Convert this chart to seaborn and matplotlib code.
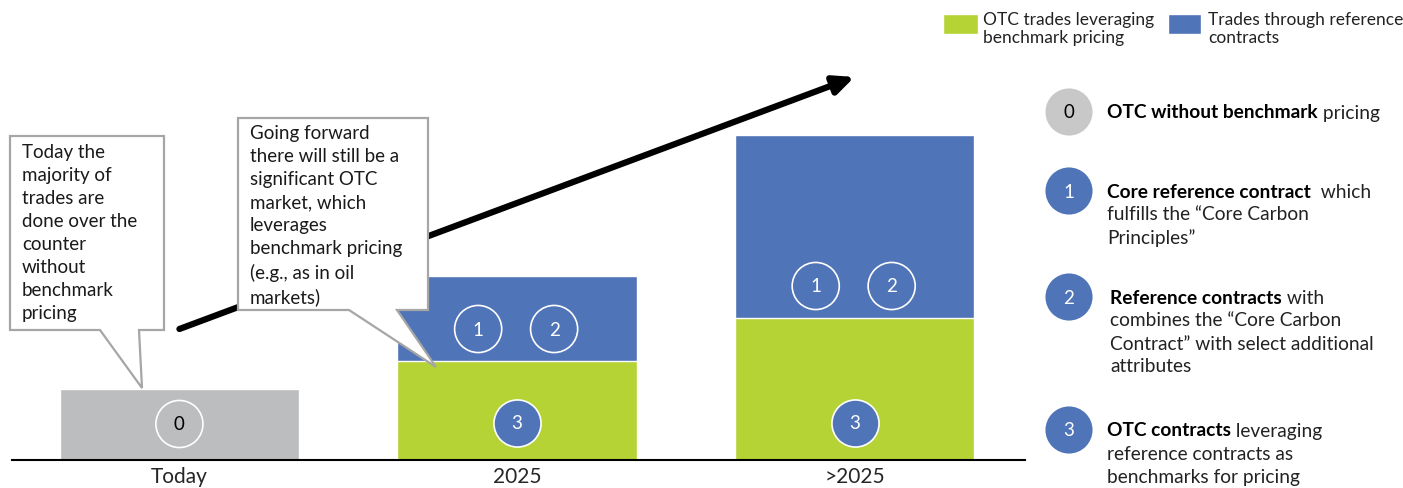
import matplotlib
matplotlib.use("Agg")
import matplotlib.pyplot as plt
import matplotlib.patches as mpatches
import seaborn as sns
import pandas as pd

# data
categories = ["Today", "2025", ">2025"]
otc_no_benchmark = [0.71, 0.0, 0.0]
otc_benchmark = [0.0, 0.99, 1.42]
reference_trades = [0.0, 0.85, 1.83]

GREEN = "#b5d334"
BLUE = "#4f74b8"
GRAY = "#bcbdbf"
FONT = "Lato"

sns.set_style("white")
plt.rcParams["font.family"] = [FONT, "DejaVu Sans"]

fig = plt.figure(figsize=(14.03, 4.89), dpi=100)
ax = fig.add_axes([12 / 1403, 28 / 489, (1025 - 12) / 1403, 461 / 489])

totals = [a + b + c for a, b, c in zip(otc_no_benchmark, otc_benchmark, reference_trades)]
df = pd.DataFrame({"cat": categories, "total": totals, "green": otc_benchmark})

sns.barplot(data=df, x="cat", y="total", hue="cat", palette=[GRAY, BLUE, BLUE],
            width=0.71, legend=False, ax=ax, saturation=1)
sns.barplot(data=df, x="cat", y="green", color=GREEN, width=0.71, ax=ax,
            saturation=1, edgecolor="white", linewidth=1)

ax.set_xlim(-0.496, 2.505)
ax.set_ylim(0, 4.61)
ax.set_xlabel("")
ax.set_ylabel("")
ax.set_yticks([])
for s in ["top", "right", "left"]:
    ax.spines[s].set_visible(False)
ax.spines["bottom"].set_color("black")
ax.spines["bottom"].set_linewidth(1.5)
ax.tick_params(axis="x", length=0, labelsize=15, pad=4)

# numbered markers inside the bars
def bubble(x, y, label, filled):
    ax.scatter([x], [y], s=1150, facecolor=BLUE if filled else "none",
               edgecolor="white", linewidth=1.2, zorder=5)
    ax.text(x, y, label, ha="center", va="center", fontsize=13.5,
            color="black" if label == "0" else "white", zorder=6)

bubble(0, 0.36, "0", False)
for i in (1, 2):
    mid = otc_benchmark[i] + 0.32
    bubble(i - 0.115, mid, "1", False)
    bubble(i + 0.11, mid, "2", False)
    bubble(i, 0.37, "3", True)

# growth arrow
ax.annotate("", xy=(2.0, 3.83), xytext=(0.0, 1.31),
            arrowprops=dict(arrowstyle="-|>,head_length=1.2,head_width=0.55",
                            color="black", lw=4.5, shrinkA=0, shrinkB=0))

# overlay in pixel coordinates for callouts and legends
ov = fig.add_axes([0, 0, 1, 1], zorder=10)
ov.set_xlim(0, 1403)
ov.set_ylim(489, 0)
ov.axis("off")
ov.patch.set_alpha(0)

box1 = [(10, 137), (164, 137), (164, 331), (139, 331), (142, 389), (100, 331), (10, 331)]
box2 = [(238, 119), (428, 119), (428, 311), (397, 311), (436, 368), (349, 311), (238, 311)]
for pts in (box1, box2):
    ov.add_patch(mpatches.Polygon(pts, closed=True, facecolor="white",
                                  edgecolor="#a6a6a6", linewidth=1.6, joinstyle="miter"))

ov.text(22, 144, "Today the\nmajority of\ntrades are\ndone over the\ncounter\nwithout\nbenchmark\npricing",
        ha="left", va="top", fontsize=13.5, linespacing=1.43, color="#1a1a1a")
ov.text(250, 125, "Going forward\nthere will still be a\nsignificant OTC\nmarket, which\nleverages\nbenchmark pricing\n(e.g., as in oil\nmarkets)",
        ha="left", va="top", fontsize=13.5, linespacing=1.43, color="#1a1a1a")

# top legend
ov.add_patch(mpatches.Rectangle((943, 15), 35, 20, facecolor=GREEN))
ov.add_patch(mpatches.Rectangle((1168, 15), 33, 20, facecolor=BLUE))
ov.text(983, 12, "OTC trades leveraging\nbenchmark pricing", ha="left", va="top",
        fontsize=12.5, color="#222222", linespacing=1.15)
ov.text(1208, 12, "Trades through reference\ncontracts", ha="left", va="top",
        fontsize=12.5, color="#222222", linespacing=1.15)

# right-hand key
fig.canvas.draw()
renderer = fig.canvas.get_renderer()

def key_item(cy, num, bold, rest_first, more_lines, tx=1107, filled=True):
    ov.scatter([1069], [cy], s=1150, facecolor=BLUE if filled else "#c8c8c8",
               edgecolor="none", zorder=5)
    ov.text(1069, cy, num, ha="center", va="center", fontsize=13.5,
            color="white" if filled else "black", zorder=6)
    t = ov.text(tx, cy, bold, ha="left", va="center", fontsize=13.8,
                fontweight="bold", color="black")
    bb = t.get_window_extent(renderer)
    x_end = ov.transData.inverted().transform((bb.x1, bb.y0))[0]
    ov.text(x_end, cy, rest_first, ha="left", va="center", fontsize=13.8, color="#222222")
    for k, line in enumerate(more_lines):
        ov.text(tx, cy + 23 * (k + 1), line, ha="left", va="center",
                fontsize=13.8, color="#222222")

key_item(113, "0", "OTC without benchmark", " pricing", [], filled=False)
key_item(192, "1", "Core reference contract", "  which",
         ["fulfills the \u201cCore Carbon", "Principles\u201d"])
key_item(298, "2", "Reference contracts", " with",
         ["combines the \u201cCore Carbon", "Contract\u201d with select additional", "attributes"], tx=1110)
key_item(431, "3", "OTC contracts", " leveraging",
         ["reference contracts as", "benchmarks for pricing"])

fig.savefig("out.png", dpi=100)
